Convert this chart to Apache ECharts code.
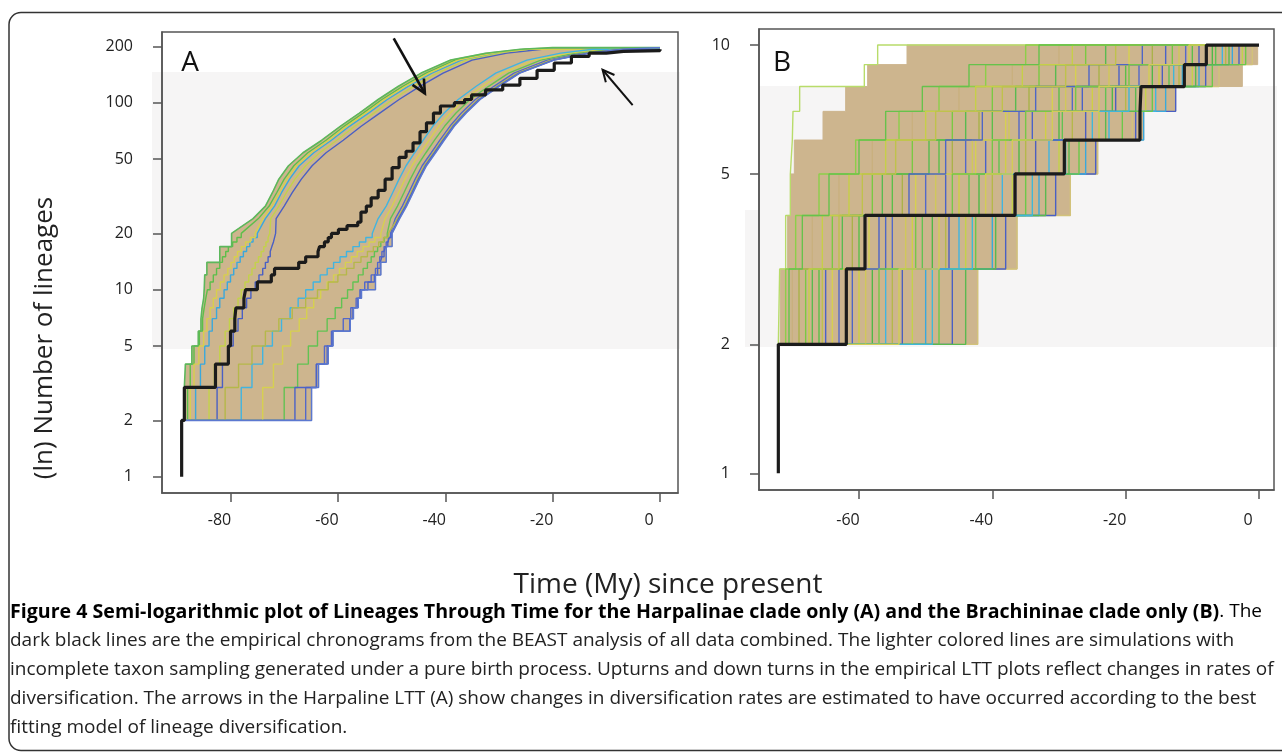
<!DOCTYPE html>
<html><head><meta charset="utf-8">
<script src="https://cdn.jsdelivr.net/npm/echarts@6/dist/echarts.min.js"></script>
<style>html,body{margin:0;padding:0;background:#fff;}#c{width:1282px;height:753px;}</style>
</head><body><div id="c"></div>
<script>
// ---------------- DATA ----------------
const xTicksA = [-80, -60, -40, -20, 0];
const xTicksB = [-60, -40, -20, 0];
const yTicksA = [1, 2, 5, 10, 20, 50, 100, 200];
const yTicksB = [1, 2, 5, 10];

// Panel A – empirical LTT (time of event, lineages after event)
const empTimeA = [-89.1,-89.1,-88.6,-82.8,-80.4,-80.0,-79.2,-79.0,-77.5,-77.2,-75.0,-72.4,-71.8,-67.3,-66.0,-63.7,-63.4,-62.5,-61.8,-61.2,-59.9,-58.3,-56.3,-55.7,-54.7,-53.8,-52.5,-51.2,-49.9,-48.6,-47.3,-46.0,-44.7,-43.5,-42.2,-40.9,-38.3,-36.4,-35.1,-32.5,-29.3,-26.1,-22.9,-19.7,-16.5,-13.2,-10.0,-6.8,0];
const empCountA = [1,2,3,4,5,6,7,8,9,10,11,12,13,14,15,16,17,18,19,20,21,22,23,26,28,31,34,39,45,51,55,61,70,78,88,96,100,104,110,117,124,135,149,163,177,184,188,190,193];

// Panel A – envelope of the simulated LTT curves
const envLevelsA = [2,3,4,5,6,7,8,9,10,12,14,17,20,24,28,33,39,46,54,63,75,88,104,122,144,169,184,193,197];
const envEarlyA  = [-88.6,-88.6,-88.4,-87.2,-86.0,-85.5,-85.3,-85.0,-84.9,-84.8,-84.4,-82.0,-79.8,-75.8,-73.5,-72.2,-71.0,-69.2,-66.5,-63.0,-59.5,-56.0,-52.5,-48.8,-44.5,-39.0,-32.5,-26.0,-20.0];
const envLateA   = [-88.6,-64.9,-63.6,-61.8,-60.9,-57.7,-57.1,-56.2,-55.6,-53.0,-52.0,-51.0,-49.9,-48.5,-47.2,-46.0,-44.8,-43.5,-41.8,-40.2,-38.3,-36.1,-33.5,-30.0,-26.1,-19.7,-13.2,-6.8,-1.0];

// Panel A – a sample of simulated curves (time each level is reached)
const simStartA = -88.6;
const simLevelsA = [3,4,5,6,7,8,9,10,11,12,13,14,15,16,17,18,19,20,24,28,33,39,46,54,63,75,88,104,122,144,169,184,193];
const simA1  = [-88.0,-87.5,-86.8,-85.8,-85.2,-84.9,-84.6,-84.3,-83.8,-83.2,-82.6,-82.0,-81.5,-80.9,-80.4,-79.6,-78.8,-78.0,-74.8,-72.8,-71.4,-70.0,-68.2,-65.6,-62.2,-58.8,-55.3,-51.8,-48.0,-43.6,-38.2,-31.5,-25.0];
const simA2  = [-86.5,-85.6,-84.8,-84.0,-83.4,-82.6,-82.0,-81.2,-80.6,-80.0,-79.4,-78.8,-78.2,-77.6,-77.0,-76.4,-75.8,-75.0,-73.5,-71.8,-70.5,-69.0,-67.2,-64.5,-61.2,-57.8,-54.3,-50.8,-47.0,-42.5,-37.0,-30.5,-24.0];
const simA3  = [-84.0,-83.0,-82.0,-81.0,-80.2,-79.4,-78.6,-78.0,-77.3,-76.6,-76.0,-75.4,-74.8,-74.3,-73.8,-73.4,-73.0,-72.7,-72.5,-71.0,-69.6,-68.0,-66.0,-63.4,-60.2,-56.8,-53.3,-49.8,-46.0,-41.5,-36.0,-29.5,-23.0];
const simA4  = [-82.5,-81.5,-80.5,-79.5,-78.6,-77.8,-77.0,-76.2,-75.4,-74.7,-74.0,-73.5,-73.0,-72.6,-72.3,-72.0,-71.8,-71.6,-71.5,-70.0,-68.5,-66.8,-64.8,-62.2,-59.0,-55.6,-52.2,-48.6,-44.8,-40.4,-35.0,-28.5,-22.0];
const simA5  = [-87.5,-86.8,-85.9,-85.0,-84.4,-83.8,-83.2,-82.6,-81.9,-81.2,-80.5,-79.9,-79.3,-78.7,-78.0,-77.2,-76.3,-75.4,-74.0,-72.3,-70.9,-69.5,-67.7,-65.0,-61.7,-58.3,-54.8,-51.3,-47.5,-43.0,-37.6,-31.0,-24.5];
const simA6  = [-66.0,-64.0,-62.5,-61.2,-59.0,-57.6,-56.6,-55.9,-55.0,-53.8,-53.0,-52.6,-52.2,-51.8,-51.4,-51.0,-50.6,-50.2,-49.3,-48.0,-46.8,-45.6,-44.3,-42.6,-41.0,-39.1,-37.0,-34.4,-31.0,-27.2,-21.0,-14.5,-8.0];
const simA7  = [-70.0,-67.5,-65.5,-63.8,-62.0,-60.5,-59.3,-58.2,-57.2,-56.2,-55.3,-54.5,-53.8,-53.2,-52.6,-52.0,-51.4,-50.8,-50.2,-48.9,-47.7,-46.5,-45.2,-43.6,-42.0,-40.1,-38.0,-35.4,-32.0,-28.2,-22.2,-15.8,-9.5];
const simA8  = [-74.0,-72.0,-70.3,-68.8,-67.2,-65.8,-64.5,-63.2,-62.0,-60.8,-59.7,-58.6,-57.5,-56.4,-55.3,-54.2,-53.1,-52.0,-51.2,-49.9,-48.7,-47.5,-46.2,-44.6,-43.0,-41.2,-39.1,-36.5,-33.1,-29.4,-23.5,-17.0,-11.0];
const simA9  = [-78.0,-76.0,-74.0,-72.2,-70.5,-68.9,-67.4,-66.0,-64.6,-63.3,-62.0,-60.8,-59.6,-58.4,-57.2,-56.0,-54.8,-53.6,-52.5,-51.0,-49.8,-48.6,-47.3,-45.7,-44.1,-42.3,-40.2,-37.6,-34.3,-30.6,-24.8,-18.5,-12.5];
const simA10 = [-81.0,-78.5,-76.0,-73.5,-71.0,-68.5,-66.0,-63.8,-61.8,-60.0,-58.4,-57.0,-55.7,-54.5,-53.4,-52.4,-51.5,-50.6,-48.9,-47.6,-46.4,-45.2,-43.9,-42.2,-40.6,-38.7,-36.5,-33.9,-30.5,-26.6,-20.3,-13.8,-7.4];
const simA11 = [-68.0,-64.0,-62.0,-61.0,-57.8,-57.2,-56.3,-55.7,-54.4,-53.2,-52.6,-52.1,-51.8,-51.4,-51.1,-50.7,-50.4,-50.0,-48.7,-47.4,-46.2,-45.0,-43.7,-42.0,-40.4,-38.5,-36.3,-33.7,-30.2,-26.3,-19.9,-13.4,-7.0];

// Panel B – empirical LTT
const empTimeB  = [-72.1,-72.1,-61.9,-59.1,-36.6,-29.2,-17.85,-17.7,-11.2,-7.9,0];
const empCountB = [1,2,3,4,5,6,7,8,9,10,10];

// Panel B – envelope of simulated curves
const envLevelsB = [2,3,4,5,6,7,8,9,10];
const envEarlyB  = [-72.1,-71.8,-70.7,-70.2,-69.7,-65.4,-62.0,-58.7,-52.8];
const envLateB   = [-72.1,-42.2,-36.3,-28.3,-24.2,-17.3,-12.5,-2.5,-0.2];

// Panel B – a sample of simulated curves (time each level 3..10 is reached)
const simStartB = -72.1;
const simLevelsB = [3,4,5,6,7,8,9,10];
const simB1  = [-71.9,-71.0,-70.3,-70.0,-69.9,-68.9,-59.2,-57.2];
const simB2  = [-42.2,-36.3,-28.3,-24.2,-19.0,-14.0,-6.0,-1.0];
const simB3  = [-46.0,-38.0,-30.5,-24.5,-18.5,-12.5,-8.0,-3.0];
const simB4  = [-66.0,-60.0,-55.0,-48.0,-40.0,-30.0,-20.0,-10.0];
const simB5  = [-50.0,-40.0,-33.0,-26.0,-17.3,-14.0,-9.0,-4.0];
const simB6  = [-60.0,-52.0,-45.0,-38.0,-32.0,-25.0,-15.0,-8.0];
const simB7  = [-68.0,-64.0,-58.0,-52.0,-46.0,-40.0,-33.0,-26.0];
const simB8  = [-55.0,-47.0,-40.0,-35.0,-28.0,-20.0,-12.0,-5.0];
const simB9  = [-63.0,-55.0,-50.0,-44.0,-36.0,-28.0,-18.0,-11.0];
const simB10 = [-58.0,-49.0,-42.0,-36.0,-30.0,-22.0,-16.0,-7.0];
const simB11 = [-70.0,-67.0,-63.0,-58.0,-52.0,-45.0,-37.0,-30.0];
const simB12 = [-52.0,-44.0,-37.0,-30.0,-24.0,-17.0,-10.0,-2.5];
const simB13 = [-65.0,-57.0,-47.0,-41.0,-34.0,-26.5,-21.0,-14.0];
const simB14 = [-62.0,-50.5,-43.5,-39.0,-29.5,-23.0,-13.5,-6.5];
const simB15 = [-56.0,-45.0,-38.5,-31.5,-22.5,-15.5,-11.5,-5.5];
const simB16 = [-69.0,-61.0,-53.5,-46.0,-42.0,-34.5,-24.0,-16.0];
const simB17 = [-48.0,-42.5,-35.0,-27.0,-20.5,-16.0,-7.0,-2.0];
const simB18 = [-53.5,-46.5,-36.5,-33.5,-26.0,-21.5,-14.5,-9.0];
const simB19 = [-64.0,-58.5,-51.5,-42.5,-38.0,-31.0,-27.5,-19.5];
const simB20 = [-67.0,-62.5,-56.5,-49.5,-44.0,-36.5,-30.5,-23.0];
const simB21 = [-71.0,-69.5,-66.0,-60.5,-54.0,-48.0,-41.0,-35.0];
const simB22 = [-59.0,-53.0,-48.5,-43.0,-37.5,-29.0,-22.5,-12.0];
const simB23 = [-44.0,-39.5,-32.0,-28.5,-23.0,-18.5,-9.5,-4.5];
const simB24 = [-67.5,-65.5,-61.5,-56.0,-50.0,-42.5,-35.5,-28.0];
const simB25 = [-61.0,-56.0,-52.5,-47.0,-41.5,-33.5,-25.5,-17.5];
const simB26 = [-57.0,-51.5,-46.0,-40.0,-35.0,-27.5,-19.5,-13.0];
const simB27 = [-65.5,-63.0,-59.5,-54.5,-48.5,-38.5,-29.0,-21.5];
const simB28 = [-49.0,-43.0,-34.0,-29.0,-25.0,-19.5,-12.8,-8.0];
const simB29 = [-70.5,-68.5,-64.5,-60.0,-56.0,-50.5,-43.5,-33.0];
const simB30 = [-54.0,-48.0,-41.0,-37.0,-31.0,-24.0,-16.5,-10.5];

// Arrows in panel A (tail -> tip, data coordinates)
const arrowA1 = [[-49.6, 221], [-43.8, 112]];
const arrowA2 = [[-5.1, 97], [-10.7, 150]];

// ---------------- STYLE ----------------
const TAN = '#cdb58e';
const simA = [simA1,simA2,simA3,simA4,simA5,simA6,simA7,simA8,simA9,simA10,simA11];
const simColA = ['#5cbf4a','#3aa8dc','#c3d24a','#4a5fc4','#d8cf4c','#5468c9','#62c253','#d6d050','#41b4e0','#b5b84a','#4b62c8'];
const simB = [simB1,simB2,simB3,simB4,simB5,simB6,simB7,simB8,simB9,simB10,simB11,simB12,simB13,simB14,simB15,simB16,simB17,simB18,simB19,simB20,simB21,simB22,simB23,simB24,simB25,simB26,simB27,simB28,simB29,simB30];
const simColB = ['#b8dc6a','#d2c27a','#4a5fc4','#5cbf4a','#3aa8dc','#cfcf45','#7ac943','#b5b84a','#5468c9','#50b848','#c9b07e','#c3d24a','#4b62c8','#62c253','#41b4e0','#aab24a','#6cc84a','#4d5ec0','#d6d050','#58bb50','#8ccf4a','#d0c85a','#5ab950','#c6cf48','#4f66c6','#76c748','#bfc24c','#3fb7d8','#66c24c','#d2cd55'];

// build a lineage path: stepped (vertical risers) up to 20 lineages, straight above
function buildPath(start, startLevel, levels, times, xEnd) {
  const pts = [[start, startLevel]];
  let prev = startLevel;
  for (let i = 0; i < levels.length; i++) {
    if (levels[i] <= 20) pts.push([times[i], prev]);
    pts.push([times[i], levels[i]]);
    prev = levels[i];
  }
  pts.push([xEnd, prev]);
  return pts;
}
function bandPoints(levels, early, late) {
  const up = buildPath(early[0], levels[0], levels.slice(1), early.slice(1), 0);
  const lo = buildPath(late[0], levels[0], levels.slice(1), late.slice(1), 0);
  return up.concat(lo.reverse());
}
const bandA = bandPoints(envLevelsA, envEarlyA, envLateA);
const bandB = bandPoints(envLevelsB, envEarlyB, envLateB);

function bandSeries(pts, idx) {
  return {
    type: 'custom', xAxisIndex: idx, yAxisIndex: idx, silent: true, z: 1,
    data: [pts[0]], encode: {x: 0, y: 1},
    renderItem: (params, api) => ({
      type: 'polygon',
      shape: {points: pts.map(p => api.coord(p))},
      style: {fill: TAN, stroke: TAN, lineWidth: 1}
    })
  };
}
function lineSeries(pts, idx, color, width, z, step) {
  return {
    type: 'line', xAxisIndex: idx, yAxisIndex: idx, data: pts, showSymbol: false,
    symbol: 'none', silent: true, step: step || false, z: z,
    lineStyle: {color: color, width: width}, animation: false
  };
}

const series = [];
series.push(bandSeries(bandA, 0));
simA.forEach((s, i) => series.push(lineSeries(buildPath(simStartA, 2, simLevelsA, s, 0), 0, simColA[i], 1.4, 2)));
series.push(lineSeries(buildPath(envEarlyA[0], 2, envLevelsA.slice(1), envEarlyA.slice(1), 0), 0, '#5cb85c', 1.6, 3));
series.push(lineSeries(buildPath(envLateA[0], 2, envLevelsA.slice(1), envLateA.slice(1), 0), 0, '#5b78d0', 1.5, 3));
series.push(lineSeries(empTimeA.map((t, i) => [t, empCountA[i]]), 0, '#1b1b1b', 3.2, 5, 'end'));

series.push(bandSeries(bandB, 1));
simB.forEach((s, i) => series.push(lineSeries(buildPath(simStartB, 2, simLevelsB, s, 0), 1, simColB[i], 1.4, 2)));
series.push(lineSeries(empTimeB.map((t, i) => [t, empCountB[i]]), 1, '#1b1b1b', 3.2, 5, 'end'));

const FONT = 'Open Sans';
function xAxis(idx, min, max, ticks, margin) {
  return {
    type: 'value', gridIndex: idx, min: min, max: max,
    axisLine: {show: true, onZero: false, lineStyle: {color: '#555', width: 1.5}},
    axisTick: {show: true, length: 9, customValues: ticks, lineStyle: {color: '#555', width: 1.5}},
    axisLabel: {customValues: ticks, margin: margin, fontFamily: FONT, fontSize: 16, color: '#222', padding: [0, 22, 0, 0]},
    splitLine: {show: false}
  };
}
function yAxis(idx, min, max, ticks, margin) {
  return {
    type: 'log', logBase: 10, gridIndex: idx, min: min, max: max,
    axisLine: {show: true, onZero: false, lineStyle: {color: '#555', width: 1.5}},
    axisTick: {show: true, length: 9, customValues: ticks, lineStyle: {color: '#555', width: 1.5}},
    axisLabel: {customValues: ticks, margin: margin, fontFamily: FONT, fontSize: 16, color: '#222'},
    splitLine: {show: false}, minorTick: {show: false}
  };
}

const chart = echarts.init(document.getElementById('c'));
chart.setOption({
  animation: false,
  backgroundColor: '#fff',
  grid: [
    {left: 162, top: 32, width: 516, height: 461, show: true, borderColor: '#555', borderWidth: 1.5, backgroundColor: 'transparent'},
    {left: 759, top: 29, width: 515, height: 461, show: true, borderColor: '#555', borderWidth: 1.5, backgroundColor: 'transparent'}
  ],
  xAxis: [xAxis(0, -92.76, 3.35, xTicksA, 19), xAxis(1, -75.0, 2.25, xTicksB, 22)],
  yAxis: [yAxis(0, 0.818, 238.8, yTicksA, 29), yAxis(1, 0.914, 10.9, yTicksB, 29)],
  series: series
});

// annotations
function arrow(a, lw, head) {
  const p0 = chart.convertToPixel({xAxisIndex: 0, yAxisIndex: 0}, a[0]);
  const p1 = chart.convertToPixel({xAxisIndex: 0, yAxisIndex: 0}, a[1]);
  const ang = Math.atan2(p1[1] - p0[1], p1[0] - p0[0]);
  const w1 = [p1[0] - head * Math.cos(ang - 0.45), p1[1] - head * Math.sin(ang - 0.45)];
  const w2 = [p1[0] - head * Math.cos(ang + 0.45), p1[1] - head * Math.sin(ang + 0.45)];
  return [
    {type: 'line', z: 100, shape: {x1: p0[0], y1: p0[1], x2: p1[0], y2: p1[1]}, style: {stroke: '#111', lineWidth: lw}},
    {type: 'polyline', z: 100, shape: {points: [w1, p1, w2]}, style: {stroke: '#111', lineWidth: lw, fill: null}}
  ];
}
const G = '#f6f5f5';
const CAP = '19px "Open Sans"';
const graphics = [
  {type: 'rect', z: -1, shape: {x: 152, y: 72, width: 528, height: 277}, style: {fill: G}},
  {type: 'rect', z: -1, shape: {x: 759, y: 86, width: 518, height: 261}, style: {fill: G}},
  {type: 'rect', z: -1, shape: {x: 745, y: 210, width: 14, height: 137}, style: {fill: G}},
  {type: 'rect', z: 100, shape: {x: 9, y: 12.5, width: 1300, height: 738, r: 12}, style: {fill: null, stroke: '#333', lineWidth: 1.5}},
  {type: 'text', z: 100, x: 190, y: 63, style: {text: 'A', font: '28px "Open Sans"', fill: '#111', textAlign: 'center', textVerticalAlign: 'middle'}},
  {type: 'text', z: 100, x: 782, y: 63, style: {text: 'B', font: '28px "Open Sans"', fill: '#111', textAlign: 'center', textVerticalAlign: 'middle'}},
  {type: 'text', z: 100, x: 45, y: 338, rotation: Math.PI / 2, style: {text: '(ln) Number of lineages', font: '26px "Open Sans"', fill: '#222', textAlign: 'center', textVerticalAlign: 'middle'}},
  {type: 'text', z: 100, x: 668, y: 585, style: {text: 'Time (My) since present', font: '28px "Open Sans"', fill: '#222', textAlign: 'center', textVerticalAlign: 'middle'}},
  {type: 'text', z: 100, x: 10, y: 612, style: {
    text: '{b|Figure 4 Semi-logarithmic plot of Lineages Through Time for the Harpalinae clade only (A) and the Brachininae clade only (B)}{n|. The}',
    textVerticalAlign: 'middle',
    rich: {b: {fontFamily: FONT, fontSize: 19.6, fontWeight: 'bold', color: '#111'}, n: {fontFamily: FONT, fontSize: 19, color: '#222'}}
  }},
  {type: 'text', z: 100, x: 10, y: 641, style: {text: 'dark black lines are the empirical chronograms from the BEAST analysis of all data combined. The lighter colored lines are simulations with', font: CAP, fill: '#222', textVerticalAlign: 'middle'}},
  {type: 'text', z: 100, x: 10, y: 670, style: {text: 'incomplete taxon sampling generated under a pure birth process. Upturns and down turns in the empirical LTT plots reflect changes in rates of', font: CAP, fill: '#222', textVerticalAlign: 'middle'}},
  {type: 'text', z: 100, x: 10, y: 699, style: {text: 'diversification. The arrows in the Harpaline LTT (A) show changes in diversification rates are estimated to have occurred according to the best', font: CAP, fill: '#222', textVerticalAlign: 'middle'}},
  {type: 'text', z: 100, x: 10, y: 728, style: {text: 'fitting model of lineage diversification.', font: CAP, fill: '#222', textVerticalAlign: 'middle'}}
].concat(arrow(arrowA1, 2.6, 15), arrow(arrowA2, 2, 13));
chart.setOption({graphic: graphics});
</script>
</body></html>
